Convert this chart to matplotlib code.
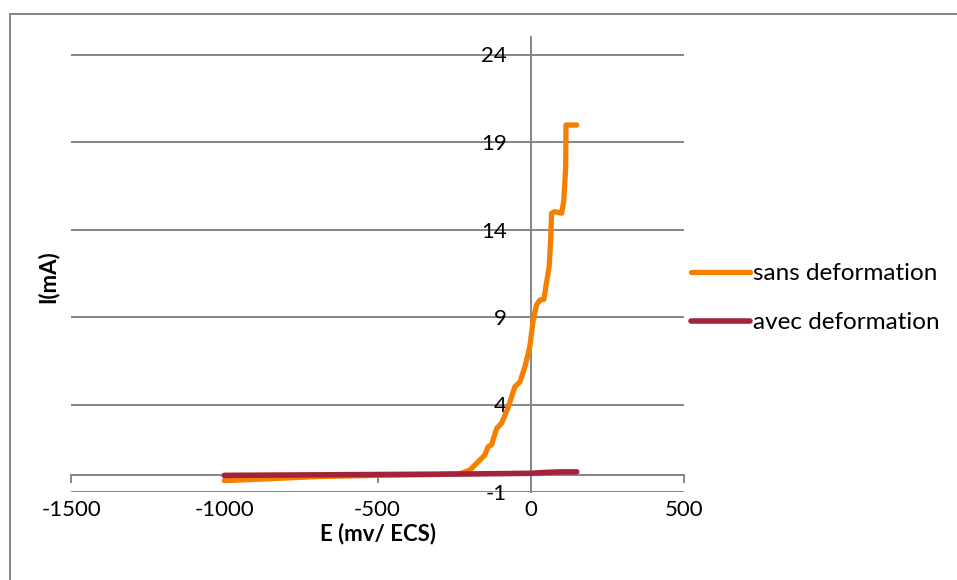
import matplotlib
matplotlib.use("Agg")
import matplotlib.pyplot as plt
from matplotlib.patches import Rectangle

plt.rcParams['font.family'] = ['Lato', 'DejaVu Sans']
plt.rcParams['axes.unicode_minus'] = False

# E (mV/ECS) and I (mA)
e_sans = [-1000, -860, -700, -500, -300, -230, -198, -166, -150, -139, -128, -111, -95, -73,
          -52, -35, -19, -3, 8, 19, 30, 43, 52, 60, 65, 68, 79, 101, 108, 114, 115, 150]
i_sans = [-0.35, -0.25, -0.12, -0.05, 0.0, 0.05, 0.26, 0.83, 1.11, 1.59, 1.69, 2.64, 2.93, 3.87,
          5.01, 5.30, 6.16, 7.30, 8.83, 9.69, 9.97, 10.01, 11.02, 11.87, 13.4, 14.93, 15.02,
          14.93, 15.69, 17.6, 19.97, 19.97]

e_avec = [-1000, -500, -200, 0, 50, 100, 150]
i_avec = [-0.05, 0.0, 0.03, 0.07, 0.12, 0.15, 0.15]

x_ticks = [-1500, -1000, -500, 0, 500]
y_ticks = [-1, 4, 9, 14, 19, 24]

fig = plt.figure(figsize=(9.57, 5.8), dpi=100)
ax = fig.add_axes([71/957, 1 - 492/580, (684 - 71)/957, (492 - 37)/580])

grid_c = '#868686'
ax.plot(e_sans, i_sans, color='#F57F00', lw=3.8, solid_capstyle='round', label='sans deformation', zorder=3)
ax.plot(e_avec, i_avec, color='#A3243A', lw=4.0, solid_capstyle='round', label='avec deformation', zorder=4)

ax.set_xlim(-1500, 500)
ax.set_ylim(-1, 25)
ax.set_yticks(y_ticks)
ax.set_xticks(x_ticks)
ax.yaxis.grid(True, color=grid_c, lw=1.4)
ax.set_axisbelow(True)

for s in ['top', 'right']:
    ax.spines[s].set_visible(False)
ax.spines['left'].set_position(('data', 0))
ax.spines['bottom'].set_position(('data', 0))
for s in ['left', 'bottom']:
    ax.spines[s].set_color(grid_c)
    ax.spines[s].set_linewidth(1.4)

ax.tick_params(axis='x', direction='out', length=6, width=1.4, color=grid_c, labelbottom=False)
ax.tick_params(axis='y', length=0, pad=17, labelsize=16)

sec = ax.secondary_xaxis('bottom')
sec.set_xticks(x_ticks)
sec.spines['bottom'].set_visible(False)
sec.tick_params(length=0, pad=6, labelsize=16)
sec.set_xlabel('E (mv/ ECS)', fontsize=16, fontweight='bold', labelpad=2)

fig.text(48/957, 1 - 277/580, 'I(mA)', rotation=90, fontsize=16, fontweight='bold',
         ha='center', va='center')

leg = ax.legend(loc='center left', bbox_to_anchor=(1.0, 0.426), frameon=False, fontsize=17.5,
                handlelength=2.4, handletextpad=0.15, labelspacing=1.15, borderaxespad=0.3,
                borderpad=0.0)

fig.add_artist(Rectangle((10/957, -0.1), 1.2, 1 - 14/580 + 0.1, transform=fig.transFigure,
                         fill=False, edgecolor=grid_c, lw=1.4))

fig.savefig('out.png', dpi=100)
